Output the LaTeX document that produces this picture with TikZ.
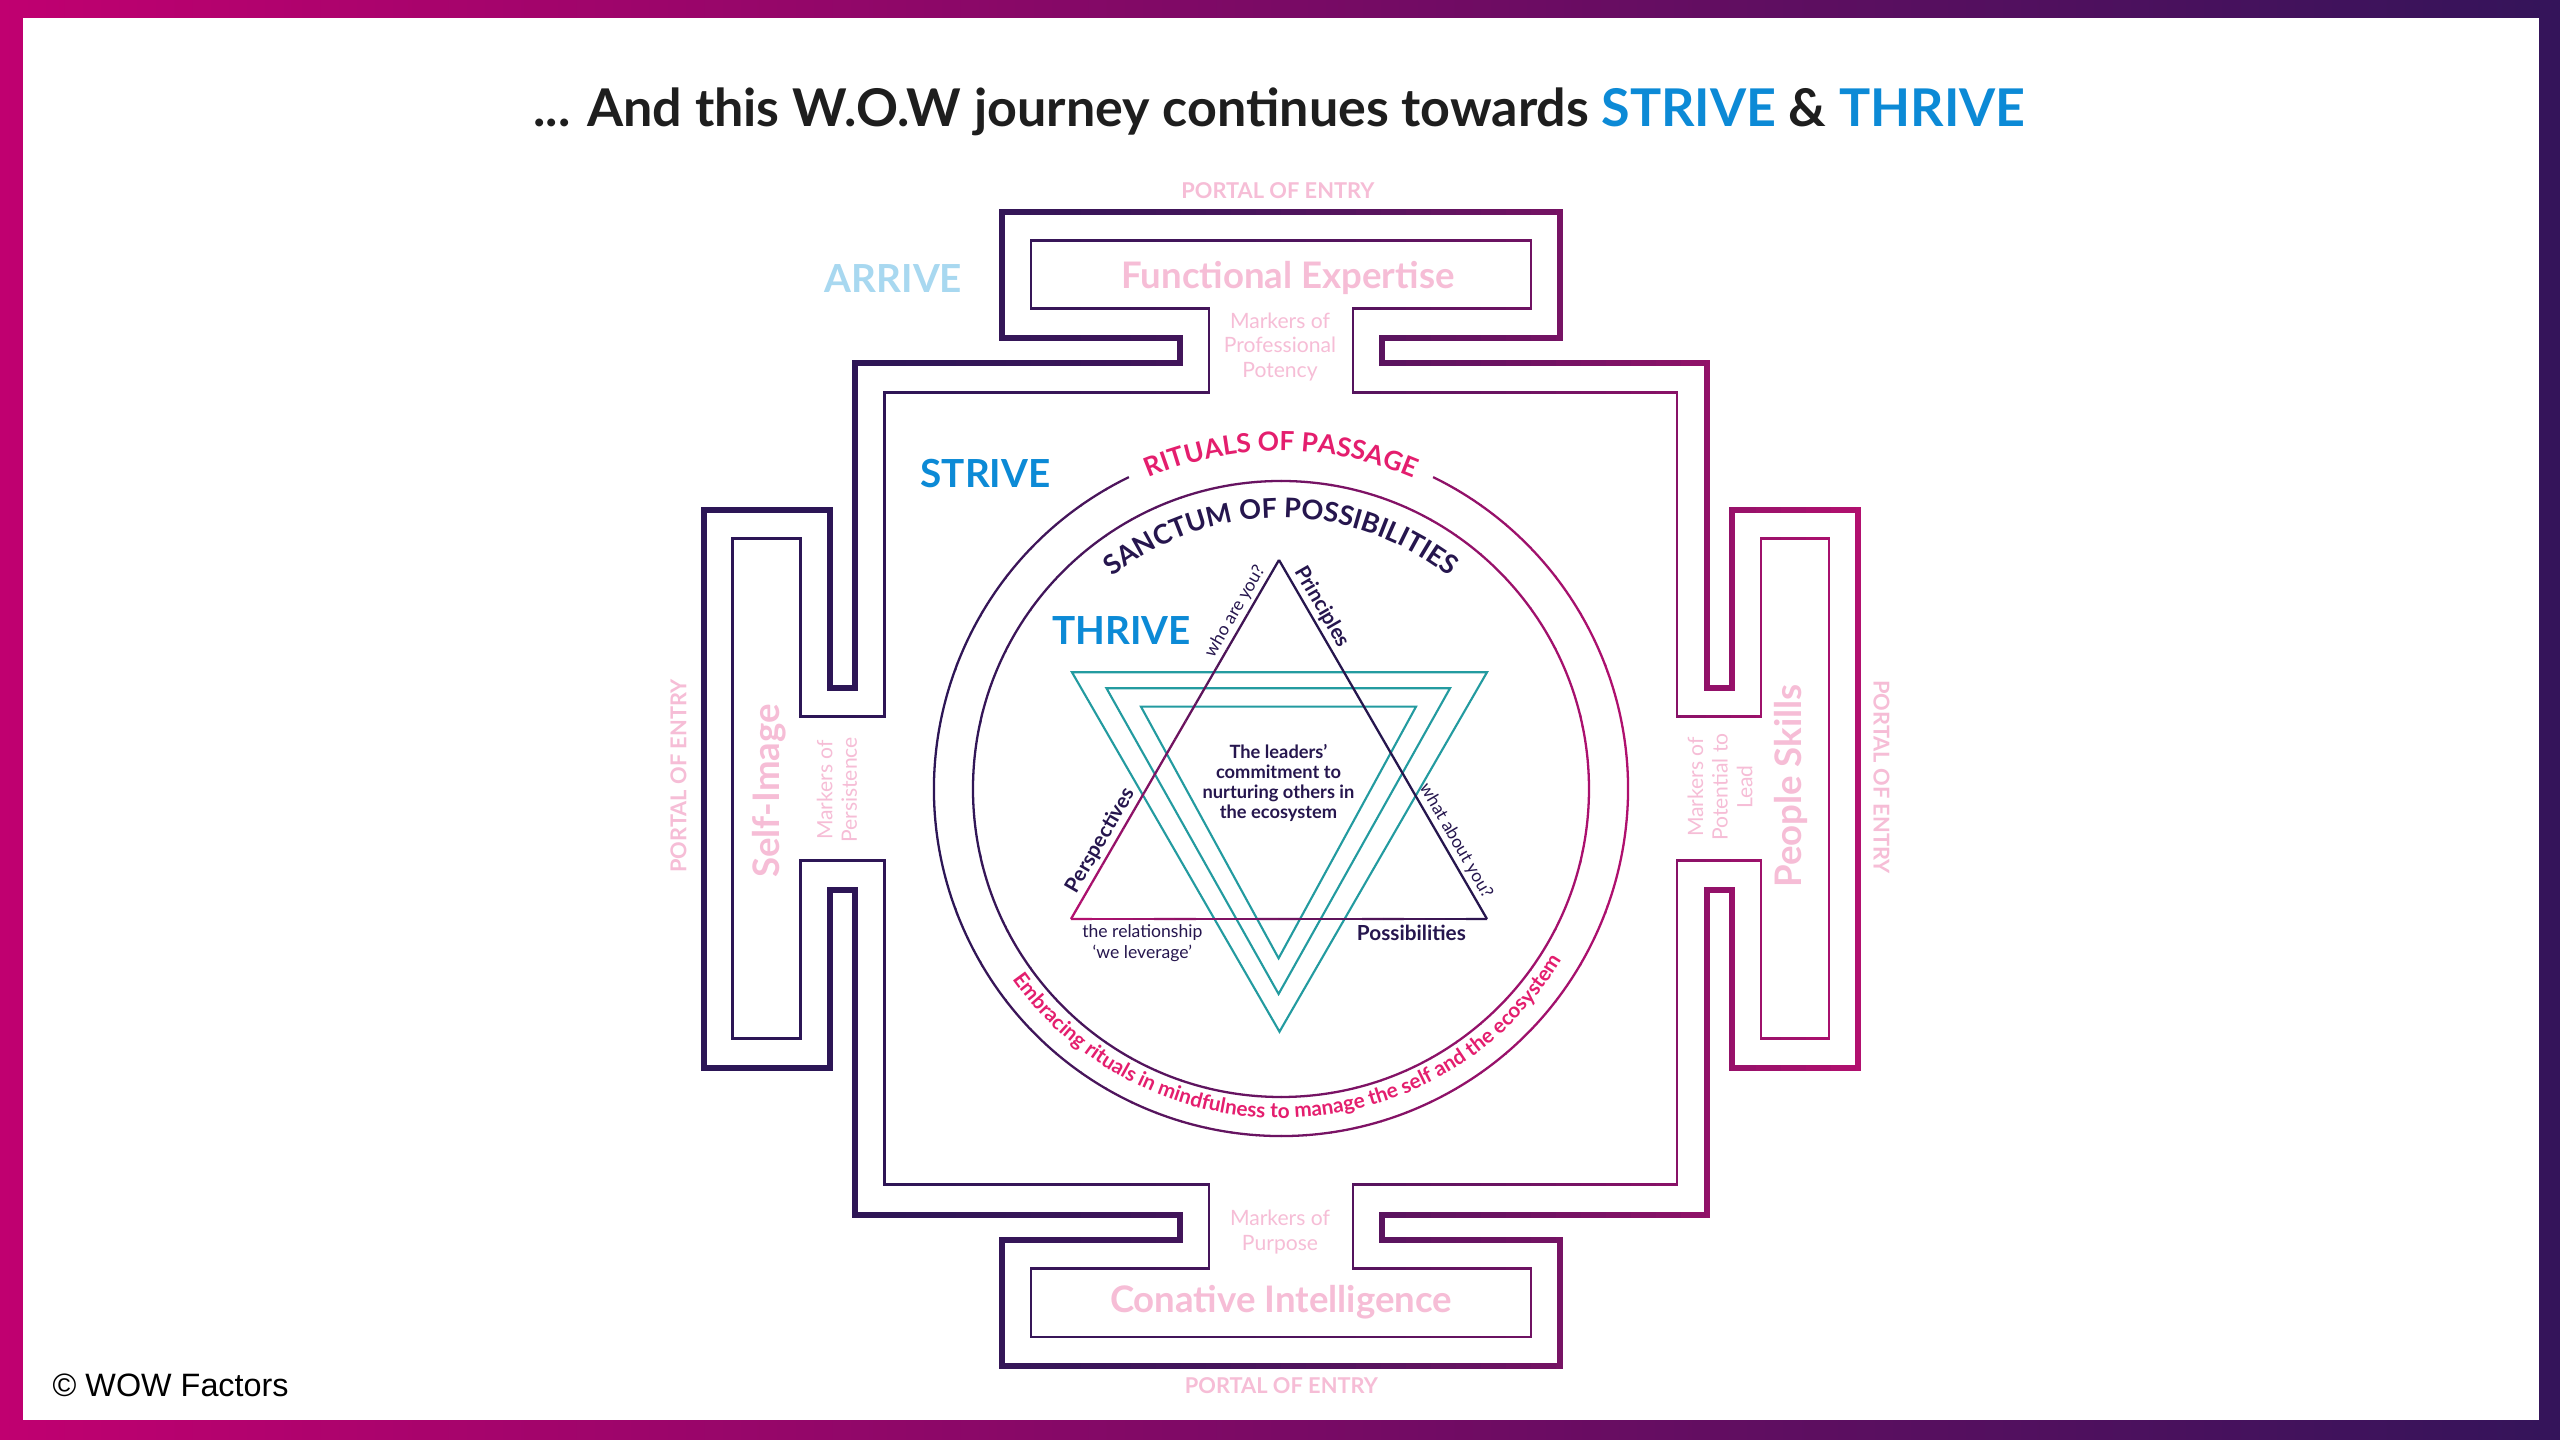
\documentclass[tikz,border=0pt]{standalone}
\usepackage{fontspec}
\setmainfont{Lato}
\newfontfamily\copyfont{Liberation Sans}
\usetikzlibrary{decorations.text, calc}

\definecolor{frameL}{RGB}{192,0,112}
\definecolor{frameR}{RGB}{52,20,90}
\definecolor{mazeL}{RGB}{44,22,86}
\definecolor{mazeR}{RGB}{178,16,111}
\definecolor{pinkT}{RGB}{246,189,214}
\definecolor{skyT}{RGB}{168,216,240}
\definecolor{blueT}{RGB}{12,138,214}
\definecolor{navyT}{RGB}{38,22,78}
\definecolor{roseT}{RGB}{228,30,110}
\definecolor{tealL}{RGB}{35,155,160}
\definecolor{titleT}{RGB}{30,30,30}

% outline of the yantra: #1 gate outer, #2 gate half width, #3 gate inner, #4 stem half width, #5 square
\newcommand{\wallpath}[5]{%
  (-#2,#1) -- (#2,#1) -- (#2,#3) -- (#4,#3) -- (#4,#5) -- (#5,#5) -- (#5,#4) -- (#3,#4) -- (#3,#2) -- (#1,#2)
  -- (#1,-#2) -- (#3,-#2) -- (#3,-#4) -- (#5,-#4) -- (#5,-#5) -- (#4,-#5) -- (#4,-#3) -- (#2,-#3) -- (#2,-#1)
  -- (-#2,-#1) -- (-#2,-#3) -- (-#4,-#3) -- (-#4,-#5) -- (-#5,-#5) -- (-#5,-#4) -- (-#3,-#4) -- (-#3,-#2) -- (-#1,-#2)
  -- (-#1,#2) -- (-#3,#2) -- (-#3,#4) -- (-#5,#4) -- (-#5,#5) -- (-#4,#5) -- (-#4,#3) -- (-#2,#3) -- cycle}

\begin{document}
\begin{tikzpicture}[
  x=0.01cm, y=0.01cm,
  wallthick/.style={line width=1.55pt},
  wallthin/.style={line width=0.85pt},
  ring/.style={line width=0.65pt},
  tealtri/.style={draw=tealL, line width=0.6pt},
  gatename/.style={text=pinkT, font=\fontsize{10.4}{11}\selectfont\bfseries},
  portal/.style={text=pinkT, font=\fontsize{6.2}{7}\selectfont\bfseries},
  markers/.style={text=pinkT, font=\fontsize{6}{7}\selectfont, align=center},
  stage/.style={font=\fontsize{11}{12}\selectfont\bfseries},
  edgebold/.style={text=navyT, font=\fontsize{5.9}{6.5}\selectfont\bfseries, inner sep=1pt},
  edgelight/.style={text=navyT, font=\fontsize{5}{6}\selectfont, inner sep=1pt}
]
  \useasboundingbox (-1281,-651) rectangle (1279,789);

  %--- Frame ---
  \fill[left color=frameL, right color=frameR] (-1281,-651) rectangle (1279,789);
  \fill[white] (-1258,-631) rectangle (1258,771);

  %--- Title ---
  \node[anchor=base, font=\fontsize{14.8}{17}\selectfont\bfseries, text=titleT] (title) at (-1.5,662)
    {... And this W.O.W journey continues towards \textcolor{blueT}{STRIVE} \& \textcolor{blueT}{THRIVE}};

  %--- Walls and rings (gradient by strips) ---
  \foreach \i in {0,...,47} {
    \pgfmathsetmacro{\xa}{-600+25*\i}
    \pgfmathsetmacro{\tw}{max(0,min(1,(\xa+12.5+577)/1154))}
    \pgfmathtruncatemacro{\wpct}{100*\tw*\tw}
    \pgfmathtruncatemacro{\rpct}{max(0,min(100,(\xa+359.5)/6.94))}
    \begin{scope}
      \clip (\xa,-640) rectangle ++(25.6,1280);
      \draw[wallthick, draw=mazeR!\wpct!mazeL] \wallpath{577}{279}{451}{101}{426};
      \draw[wallthin, draw=mazeR!\wpct!mazeL] \wallpath{548}{250}{480}{72}{396};
      \draw[ring, draw=mazeR!\rpct!mazeL] (116:347) arc[start angle=116, end angle=424, radius=347];
      \draw[ring, draw=mazeR!\rpct!mazeL] (0,0) circle[radius=308];
    \end{scope}
  }

  %--- Ring texts ---
  \path[decorate, decoration={text along path, text align=center,
    text={|\fontsize{7.5}{8}\selectfont\bfseries\color{roseT}|RITUALS OF PASSAGE}}]
    (130:338) arc[start angle=130, end angle=50, radius=338];
  \path[decorate, decoration={text along path, text align=center,
    text={|\fontsize{7.7}{9}\selectfont\bfseries\color{navyT}|SANCTUM OF POSSIBILITIES}}]
    (150:271) arc[start angle=150, end angle=30, radius=271];
  \path[decorate, decoration={text along path, text align=center,
    text={|\fontsize{5.9}{7}\selectfont\bfseries\color{roseT}|Embracing rituals in mindfulness to manage the self and the ecosystem}}]
    (196:329) arc[start angle=196, end angle=348, radius=329];

  %--- Star ---
  \draw[tealtri] (-209,116.7) -- (206,116.7) -- (-1.5,-242.7) -- cycle;
  \draw[tealtri] (-174.5,100.7) -- (169,100.7) -- (-2.4,-205) -- cycle;
  \draw[tealtri] (-140,82.3) -- (135,82.3) -- (-2.4,-169.3) -- cycle;

  \coordinate (upA) at (-2,229);
  \coordinate (upL) at (-210,-130);
  \coordinate (upR) at (206,-130);
  \draw[ring, navyT] (upA) -- (upR);
  \foreach \k [evaluate=\k as \kk using \k+1, evaluate=\k as \tp using int(100-5*\k)] in {0,...,19} {
    \draw[ring, draw=mazeR!\tp!navyT] ($(upL)!\k/20!(upA)$) -- ($(upL)!\kk/20!(upA)$);
    \draw[ring, draw=mazeR!\tp!navyT] ($(upL)!\k/20!(upR)$) -- ($(upL)!\kk/20!(upR)$);
  }

  \path (upL) -- (upA) node[edgelight, pos=0.84, sloped, above] (who) {who are you?};
  \path (upL) -- (upA) node[edgebold, pos=0.2, sloped, above] (persp) {Perspectives};
  \path (upA) -- (upR) node[edgebold, pos=0.15, sloped, above] (princ) {Principles};
  \path (upA) -- (upR) node[edgelight, pos=0.8, sloped, above] (what) {what about you?};

  \node[edgelight, align=center] (rel) at (-138.6,-154.3) {the relationship\\`we leverage'};
  \node[edgebold] (poss) at (130.4,-144) {Possibilities};
  \node[text=navyT, font=\fontsize{5.2}{5.7}\selectfont\bfseries, align=center] (core) at (-2.5,6)
    {The leaders'\\commitment to\\nurturing others in\\the ecosystem};

  %--- Stages ---
  \node[stage, text=skyT] (arrive) at (-387.5,510) {ARRIVE};
  \node[stage, text=blueT] (strive) at (-295.5,315.5) {STRIVE};
  \node[stage, text=blueT] (thrive) at (-159.5,158) {THRIVE};

  %--- Top gate ---
  \node[portal] (portT) at (-3,598.5) {PORTAL OF ENTRY};
  \node[gatename] (func) at (7,511) {Functional Expertise};
  \node[markers] (markT) at (-1,442) {Markers of\\Professional\\Potency};

  %--- Left gate ---
  \node[portal, rotate=90] (portL) at (-602.5,13) {PORTAL OF ENTRY};
  \node[gatename, rotate=90] (self) at (-512,-2) {Self-Image};
  \node[markers, rotate=90] (markL) at (-444,-1) {Markers of\\Persistence};

  %--- Right gate ---
  \node[markers, rotate=90] (markR) at (439,2) {Markers of\\Potential to\\Lead};
  \node[gatename, rotate=90] (people) at (510,3) {People Skills};
  \node[portal, rotate=-90] (portR) at (600.5,12) {PORTAL OF ENTRY};

  %--- Bottom gate ---
  \node[markers] (markB) at (-1,-443) {Markers of\\Purpose};
  \node[gatename] (conat) at (0,-513) {Conative Intelligence};
  \node[portal] (portB) at (0.5,-597) {PORTAL OF ENTRY};

  %--- Copyright ---
  \node[anchor=base west, inner sep=0pt, font=\copyfont\fontsize{9.2}{10}\selectfont, text=black] (copy)
    at (-1229,-608) {© WOW Factors};
\end{tikzpicture}
\end{document}
